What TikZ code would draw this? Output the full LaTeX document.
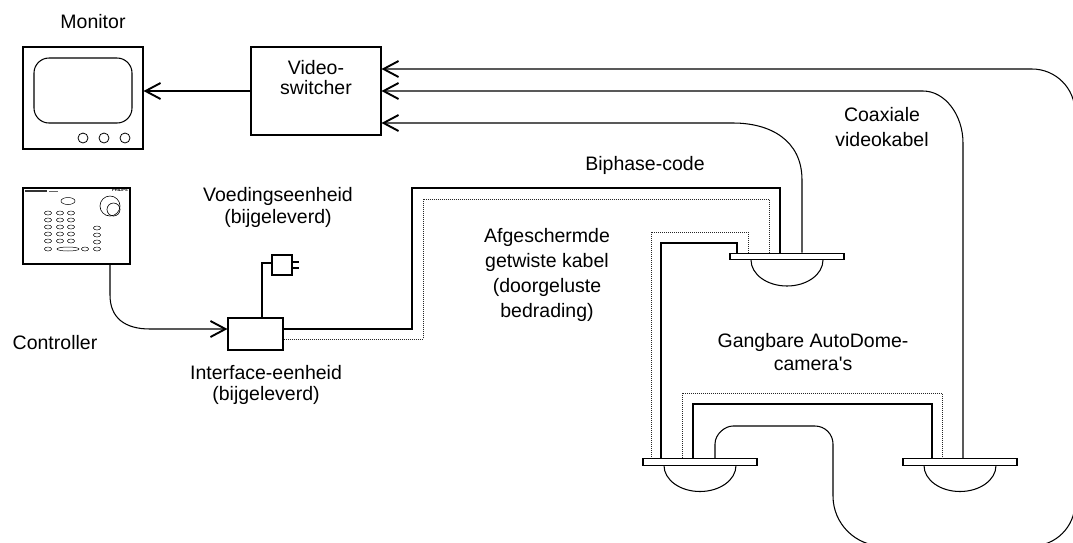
\documentclass[tikz,border=0pt]{standalone}
\usepackage{fontspec}
\setmainfont{Liberation Sans}
\usetikzlibrary{arrows.meta}
\begin{document}
\begin{tikzpicture}[x=1pt,y=-1pt,
  wire/.style={line width=1.05pt},
  shield/.style={line width=0.8pt, dash pattern=on 1pt off 1pt, black!85},
  feed/.style={wire, -{Straight Barb[length=15pt,width=16pt,line width=1.9pt]}},
  box/.style={draw, line width=1.05pt, inner sep=0pt, fill=white},
  plate/.style={box, minimum width=114pt, minimum height=6.5pt},
  lbl/.style={font=\fontsize{19.5}{24}\selectfont, align=center, inner sep=0pt},
  knob/.style={line width=0.5pt},
  dome/.pic={\draw[wire] (-36,0) .. controls (-36,14.4) and (-19.9,26) .. (0,26)
                          .. controls (19.9,26) and (36,14.4) .. (36,0);}
]
\useasboundingbox (0,0) rectangle (1073,542);
\clip (0,0) rectangle (1073,542);

% ---------- devices ----------
\node[box, minimum width=120pt, minimum height=102pt] (monitor) at (83,98) {};
\draw[wire, rounded corners=15pt] (34,58) rectangle (132,123);
\foreach \cx in {83,104,125} \draw[line width=0.8pt] (\cx,138) circle[radius=5];

\node[box, minimum width=130pt, minimum height=88pt] (switch) at (316,91) {};

\node[box, minimum width=107pt, minimum height=76pt] (ctrl) at (76.5,226) {};
\draw[line width=2pt, black!80] (25,191) -- (47,191);
\draw[line width=1pt, black!60] (49,191) -- (58,191);
\node[font=\fontsize{4}{4}\selectfont\bfseries, inner sep=0pt] (brand) at (120,190.5) {PHILIPS};
\draw[knob] (68,201) ellipse[x radius=7, y radius=3.5];
\foreach \ry in {213,220,227,234,241}
  \foreach \rx in {48,60,71}
    \draw[knob] (\rx,\ry) ellipse[x radius=3.6, y radius=2];
\foreach \ry in {228,235,242,249}
  \draw[knob] (97,\ry) ellipse[x radius=3.6, y radius=2];
\draw[knob] (48,249) ellipse[x radius=3.6, y radius=2];
\draw[knob] (68,249) ellipse[x radius=11, y radius=2];
\draw[knob] (85,249) ellipse[x radius=3.6, y radius=2];
\draw[line width=0.6pt] (110,206) circle[radius=10];
\draw[line width=0.6pt] (113.5,209.5) circle[radius=6.5];

\node[box, minimum width=55pt, minimum height=32pt] (iface) at (255.5,334) {};
\node[box, minimum width=20pt, minimum height=20pt] (psu) at (282,265) {};
\draw[wire] ([yshift=3pt]psu.east) -- ++(6,0);
\draw[wire] ([yshift=-3pt]psu.east) -- ++(6,0);

% cameras: mounting plate with dome below
\pic at (787,260) {dome};
\pic at (700,465.5) {dome};
\pic at (960,465.5) {dome};
\node[plate] (cam1) at (787,256.5) {};
\node[plate] (cam3) at (700,462) {};
\node[plate] (cam2) at (960,462) {};

% ---------- connectors ----------
\draw[feed] (switch.west) -- (monitor.east |- switch.west);
\draw[feed] ([xshift=33.5pt]ctrl.south) -- (110,295)
  .. controls (110,318) and (125,329) .. (150,329) -- ([yshift=5pt]iface.west);
\draw[wire] ([xshift=6.5pt]iface.north) |- ([yshift=2pt]psu.west);

% biphase control: shielded twisted pair, looped through the cameras
\draw[wire] ([yshift=5pt]iface.east) -- (412,329) -- (412,188) -- (780,188)
  -- ([xshift=-7pt]cam1.north);
\draw[shield] ([yshift=-5pt]iface.east) -- (423,339) -- (423,199) -- (769,199)
  -- ([xshift=-18pt]cam1.north);
\draw[wire] ([xshift=-50pt]cam1.north) -- (737,243) -- (661,243)
  -- ([xshift=-39pt]cam3.north);
\draw[shield] ([xshift=-39pt]cam1.north) -- (748,232) -- (651,232)
  -- ([xshift=-49pt]cam3.north);
\draw[wire] ([xshift=-7pt]cam3.north) -- (693,404) -- (932,404)
  -- ([xshift=-28pt]cam2.north);
\draw[shield] ([xshift=-18pt]cam3.north) -- (682,393) -- (942,393)
  -- ([xshift=-18pt]cam2.north);

% coaxial video lines back to the switcher
\draw[feed] ([xshift=15pt]cam1.north) -- (802,180)
  .. controls (802,140) and (770,123) .. (733,123) -- ([yshift=-32pt]switch.east);
\draw[feed] ([xshift=3pt]cam2.north) -- (963,143)
  .. controls (963,115) and (945,91) .. (923,91) -- (switch.east);
\draw[feed] ([xshift=15pt]cam3.north) -- (715,444)
  .. controls (715,434.1) and (724.9,426) .. (733,426) -- (815,426)
  .. controls (824.9,426) and (833,434.1) .. (833,444) -- (833,496)
  .. controls (833,523.6) and (855.4,546) .. (883,546) -- (1032,546)
  .. controls (1055.7,546) and (1075,526.7) .. (1075,503) -- (1075,112)
  .. controls (1075,88.3) and (1055.7,69) .. (1032,69)
  -- ([yshift=22pt]switch.east);

% ---------- labels ----------
\node[lbl] (tMonitor) at (93,22) {Monitor};
\node[lbl, font=\fontsize{19.5}{20}\selectfont] (tSwitch) at (316,78) {Video-\\switcher};
\node[lbl, font=\fontsize{19.5}{22}\selectfont] (tPsu) at (278,207) {Voedingseenheid\\(bijgeleverd)};
\node[lbl] (tCtrl) at (55,343) {Controller};
\node[lbl, font=\fontsize{19.5}{21}\selectfont] (tIface) at (266,385) {Interface-eenheid\\(bijgeleverd)};
\node[lbl] (tBiphase) at (645,165) {Biphase-code};
\node[lbl, font=\fontsize{19.5}{25}\selectfont] (tShield) at (547,275) {Afgeschermde\\getwiste kabel\\(doorgeluste\\bedrading)};
\node[lbl, font=\fontsize{19.5}{25}\selectfont] (tCoax) at (882,127) {Coaxiale\\videokabel};
\node[lbl, font=\fontsize{19.5}{23}\selectfont] (tCams) at (813,352) {Gangbare AutoDome-\\camera\textquotesingle s};
\end{tikzpicture}
\end{document}
